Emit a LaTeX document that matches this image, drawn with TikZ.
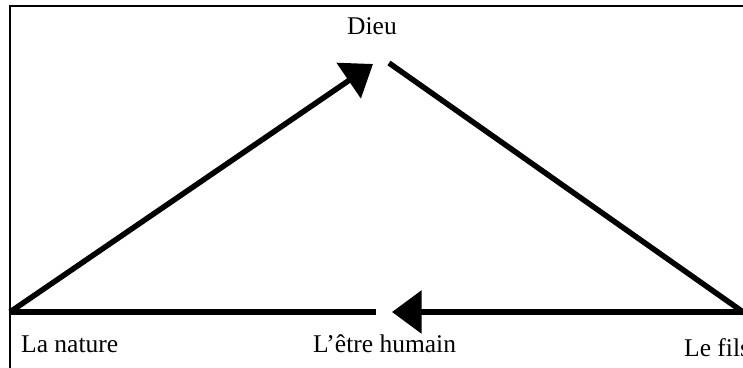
\documentclass[tikz,border=0pt]{standalone}
\usepackage{fontspec}
\setmainfont{Liberation Serif}
\usetikzlibrary{arrows.meta}
\tikzset{
  frameline/.style={line width=2pt},
  thick line/.style={line width=5.5pt},
  arrowline/.style={line width=5.5pt,-{Triangle[length=29.5pt,width=42pt]}},
  lbl/.style={inner sep=0pt,font=\fontsize{25.5}{30}\selectfont}
}
\begin{document}
\begin{tikzpicture}[x=1pt,y=1pt]
\useasboundingbox (0,0) rectangle (743,367);
\clip (0,0) rectangle (743,367);
% frame (top and left sides visible)
\coordinate (ftl) at (10,360.5);
\coordinate (ftr) at (750,360.5);
\coordinate (fbl) at (10,-5);
\draw[frameline] (ftr) -- (ftl) -- (fbl);
% connector points
\coordinate (nature) at (10,55);
\coordinate (fils) at (743,55);
\coordinate (dieuL) at (373,303);
\coordinate (dieuR) at (389,304);
\coordinate (humainR) at (392,55);
\coordinate (humainL) at (376,55);
% labels
\node[lbl,anchor=base] (tdieu) at (372,332) {Dieu};
\node[lbl,anchor=base west] (tnature) at (21,15) {La nature};
\node[lbl,anchor=base west] (thumain) at (313,15) {L’être humain};
\node[lbl,anchor=base west] (tfils) at (684,11) {Le fils};
% connectors
\draw[arrowline] (nature) -- (dieuL);
\draw[thick line,shorten >=-8pt] (dieuR) -- (fils);
\draw[arrowline,shorten <=-8pt] (fils) -- (humainR);
\draw[thick line] (humainL) -- (nature);
\end{tikzpicture}
\end{document}
